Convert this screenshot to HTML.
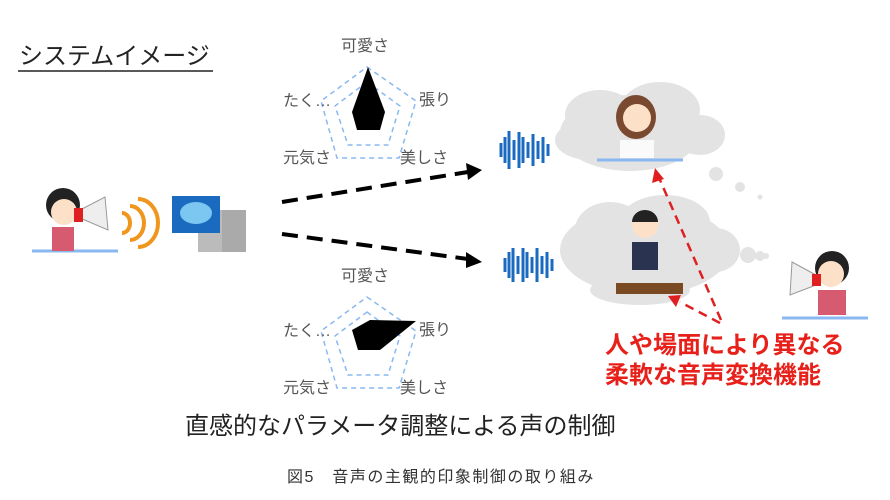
<!DOCTYPE html>
<html><head><meta charset="utf-8"><style>
body{margin:0;width:890px;height:500px;background:#fff;overflow:hidden;font-family:"Liberation Sans","Noto Sans CJK JP",sans-serif;}
svg{position:absolute;left:0;top:0}
</style></head><body>
<svg width="890" height="500" viewBox="0 0 890 500" font-family="Liberation Sans, Noto Sans CJK JP, sans-serif">
<text x="19" y="64" font-size="24" fill="#222">システムイメージ</text>
<line x1="18" y1="71" x2="213" y2="71" stroke="#222" stroke-width="1.5"/>

<!-- radar 1 -->
<g fill="none" stroke="#8ab8f0" stroke-width="1.5" stroke-dasharray="5,4">
<polygon points="367,67 416,101 399,158 337,158 321,101"/>
<polygon points="367,82 400,106 388,145 348,145 335,106"/>
</g>
<polygon points="368,67 385,112 380,130 357,130 352,112" fill="#000"/>
<g font-size="16" fill="#555">
<text x="341" y="51">可愛さ</text>
<text x="419" y="105">張り</text>
<text x="283" y="106">たく…</text>
<text x="283" y="163">元気さ</text>
<text x="400" y="163">美しさ</text>
</g>

<!-- radar 2 -->
<g transform="translate(0,230)">
<g fill="none" stroke="#8ab8f0" stroke-width="1.5" stroke-dasharray="5,4">
<polygon points="367,67 416,101 399,158 337,158 321,101"/>
<polygon points="367,82 400,106 388,145 348,145 335,106"/>
</g>
<polygon points="370,90 416,91 380,120 358,120 352,100" fill="#000"/>
<g font-size="16" fill="#555">
<text x="341" y="51">可愛さ</text>
<text x="419" y="105">張り</text>
<text x="283" y="106">たく…</text>
<text x="283" y="163">元気さ</text>
<text x="400" y="163">美しさ</text>
</g>
</g>

<!-- black dashed arrows -->
<g stroke="#000" stroke-width="4" stroke-dasharray="16,9">
<line x1="282" y1="202" x2="468" y2="172"/>
<line x1="282" y1="234" x2="468" y2="259"/>
</g>
<polygon points="482,170 466,163 468,180" fill="#000"/>
<polygon points="482,262 466,252 466,268" fill="#000"/>

<!-- left person & waves -->
<line x1="32" y1="251" x2="118" y2="251" stroke="#8ab8f0" stroke-width="3"/>
<circle cx="63" cy="205" r="17" fill="#222"/>
<circle cx="64" cy="212" r="13" fill="#fde0c8"/>
<rect x="52" y="227" width="22" height="24" fill="#d65a70"/>
<polygon points="80,210 105,197 108,230 80,218" fill="#eee" stroke="#999"/>
<rect x="74" y="208" width="9" height="14" fill="#e02020"/>
<g fill="none" stroke="#f0961c" stroke-width="4">
<path d="M122,213 a8,10 0 0 1 0,20"/>
<path d="M130,206 a14,17 0 0 1 0,34"/>
<path d="M138,199 a20,24 0 0 1 0,48"/>
</g>
<!-- server/brain -->
<rect x="222" y="210" width="24" height="42" fill="#aaa"/>
<rect x="198" y="210" width="24" height="42" fill="#bbb"/>
<rect x="172" y="196" width="48" height="37" fill="#1a6bbf"/>
<ellipse cx="196" cy="213" rx="16" ry="11" fill="#7cc6f2"/>

<!-- clouds -->
<g fill="#e3e3e3">
<ellipse cx="630" cy="133" rx="70" ry="38"/>
<ellipse cx="600" cy="115" rx="35" ry="25"/>
<ellipse cx="660" cy="110" rx="40" ry="28"/>
<ellipse cx="700" cy="135" rx="25" ry="20"/>
<ellipse cx="590" cy="140" rx="35" ry="20"/>
<circle cx="716" cy="174" r="7"/><circle cx="740" cy="187" r="5"/><circle cx="760" cy="197" r="2.5"/>
<ellipse cx="645" cy="250" rx="85" ry="45"/>
<ellipse cx="610" cy="230" rx="35" ry="28"/>
<ellipse cx="665" cy="222" rx="45" ry="27"/>
<ellipse cx="715" cy="250" rx="25" ry="22"/>
<ellipse cx="640" cy="290" rx="50" ry="15"/>
<circle cx="748" cy="255" r="8"/><circle cx="760" cy="256" r="5"/><circle cx="766" cy="256" r="3"/>
</g>
<!-- top cloud person -->
<ellipse cx="636" cy="117" rx="20" ry="22" fill="#7a4a30"/>
<circle cx="637" cy="118" r="14" fill="#fde0c8"/>
<rect x="620" y="140" width="34" height="18" fill="#fafafa"/>
<line x1="597" y1="160" x2="683" y2="160" stroke="#8ab8f0" stroke-width="3"/>
<!-- bottom cloud person -->
<circle cx="645" cy="225" r="13" fill="#fde0c8"/>
<path d="M632,222 a13,12 0 0 1 26,0z" fill="#222"/>
<rect x="632" y="242" width="26" height="28" fill="#2a3350"/>
<rect x="616" y="283" width="67" height="11" fill="#7a4a22"/>

<!-- sound waves -->
<g stroke="#1a6bbf" stroke-width="3">
<line x1="501" y1="143" x2="501" y2="157"/><line x1="505" y1="137" x2="505" y2="163"/><line x1="509" y1="131" x2="509" y2="169"/><line x1="514" y1="140" x2="514" y2="160"/><line x1="519" y1="132" x2="519" y2="168"/><line x1="523" y1="137" x2="523" y2="163"/><line x1="528" y1="142" x2="528" y2="158"/><line x1="533" y1="134" x2="533" y2="166"/><line x1="538" y1="141" x2="538" y2="159"/><line x1="543" y1="137" x2="543" y2="163"/><line x1="548" y1="144" x2="548" y2="156"/>
<line x1="505" y1="258" x2="505" y2="272"/><line x1="509" y1="252" x2="509" y2="278"/><line x1="513" y1="248" x2="513" y2="282"/><line x1="518" y1="256" x2="518" y2="274"/><line x1="523" y1="248" x2="523" y2="282"/><line x1="527" y1="252" x2="527" y2="278"/><line x1="532" y1="257" x2="532" y2="273"/><line x1="537" y1="248" x2="537" y2="282"/><line x1="542" y1="256" x2="542" y2="274"/><line x1="547" y1="252" x2="547" y2="278"/><line x1="552" y1="259" x2="552" y2="271"/>
</g>

<!-- right person -->
<circle cx="832" cy="268" r="17" fill="#222"/>
<circle cx="831" cy="274" r="13" fill="#fde0c8"/>
<rect x="818" y="290" width="28" height="25" fill="#d65a70"/>
<polygon points="816,275 792,262 790,295 816,285" fill="#eee" stroke="#999"/>
<rect x="812" y="274" width="9" height="12" fill="#e02020"/>
<line x1="782" y1="318" x2="868" y2="318" stroke="#8ab8f0" stroke-width="3"/>

<!-- red dashed arrows -->
<g stroke="#e02020" stroke-width="2.5" stroke-dasharray="9,6">
<line x1="721" y1="320" x2="660" y2="180"/>
<line x1="720" y1="323" x2="680" y2="302"/>
</g>
<polygon points="655,168 652,183 664,179" fill="#e02020"/>
<polygon points="668,296 681,295 676,307" fill="#e02020"/>

<g font-size="24" font-weight="bold" fill="#e8201a">
<text x="605" y="353">人や場面により異なる</text>
<text x="605" y="383">柔軟な音声変換機能</text>
</g>
<text x="185" y="434" font-size="24" fill="#222">直感的なパラメータ調整による声の制御</text>
<text x="287" y="482" font-size="16" letter-spacing="1.5" fill="#333">図5　音声の主観的印象制御の取り組み</text>
</svg>
</body></html>
